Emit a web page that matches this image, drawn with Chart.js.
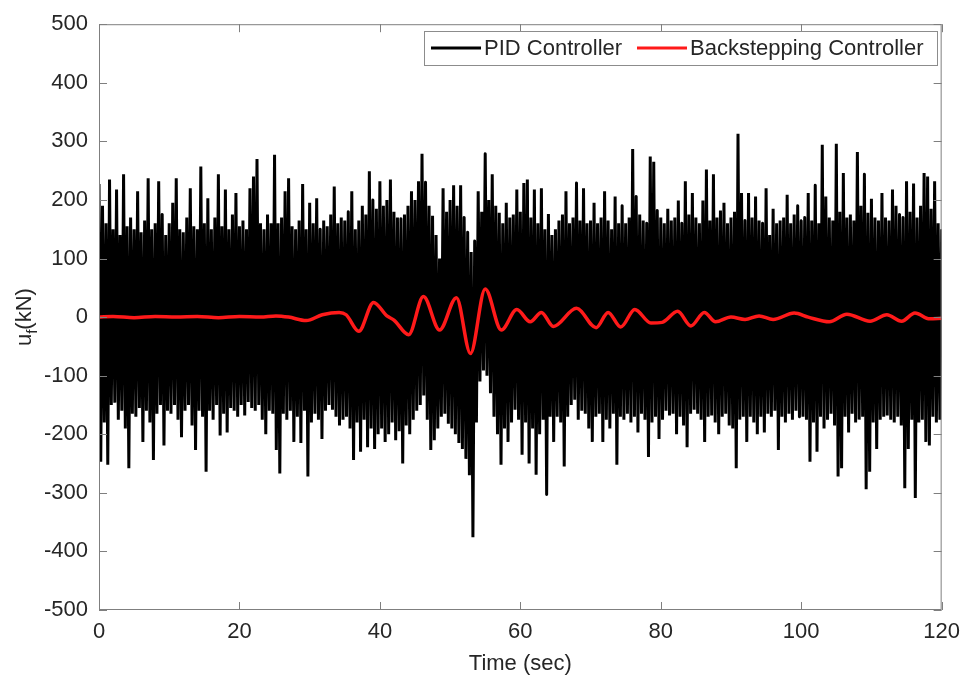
<!DOCTYPE html>
<html>
<head>
<meta charset="utf-8">
<script src="https://cdn.jsdelivr.net/npm/chart.js@4.4.0/dist/chart.umd.min.js"></script>
<style>
html, body { margin: 0; padding: 0; background: #fff; }
#wrap { width: 969px; height: 679px; position: relative; }
</style>
</head>
<body>
<div id="wrap"><canvas id="ufChart"></canvas></div>
<script>
// PID control force, one sample every 0.25 s
const pidStep = 0.25;
const pid0to30 = [
    227,-247,190,-180,160,-252,235,-150,150,-146,218,-175,140,-160,244,-190,155,-258,170,-165,
    150,-170,215,-155,145,-213,165,-160,237,-180,150,-244,160,-165,232,-150,175,-219,140,-160,
    160,-165,195,-150,237,-175,150,-205,145,-160,170,-150,220,-185,155,-227,150,-160,257,-170,
    160,-264,203,-160,150,-175,170,-150,244,-202,155,-165,218,-197,150,-155,175,-160,212,-170,
    155,-150,165,-168,150,-145,220,-155,240,-160,270,-150,160,-175,150,-200,175,-160,160,-165,
    277,-227,160,-267,170,-165,215,-175,237,-160,155,-213,150,-170,165,-215,227,-160,150,-272
];
const pid30to60 = [
    195,-180,160,-165,203,-175,150,-208,165,-160,155,-150,175,-158,223,-170,160,-185,170,-175,
    165,-170,180,-190,215,-244,150,-180,165,-230,190,-175,175,-222,249,-190,200,-225,185,-200,
    232,-190,190,-213,200,-200,235,-180,180,-210,170,-195,168,-250,175,-185,190,-200,215,-175,
    200,-160,232,-150,279,-134,230,-175,190,-227,173,-210,140,-190,100,-170,220,-165,180,-182,
    200,-190,225,-200,190,-215,225,-225,170,-242,145,-270,111,-376,130,-180,215,-110,180,-91,
    279,-100,200,-130,244,-170,190,-200,178,-252,160,-190,195,-213,170,-180,175,-158,218,-175
];
const pid60to90 = [
    180,-235,229,-180,235,-250,170,-190,218,-269,160,-200,220,-175,150,-303,176,-170,140,-213,
    150,-170,165,-180,175,-255,215,-170,160,-150,170,-141,229,-175,165,-160,220,-165,160,-190,
    165,-213,195,-170,160,-165,170,-213,215,-175,165,-190,150,-165,206,-252,160,-170,190,-175,
    160,-165,170,-180,287,-170,206,-197,175,-165,165,-175,160,-239,274,-180,265,-170,182,-208,
    170,-175,160,-160,185,-168,165,-165,170,-200,199,-170,160,-185,232,-222,175,-165,212,-158,
    170,-165,160,-175,199,-213,252,-170,165,-168,244,-180,170,-200,182,-170,195,-165,160,-185
];
const pid90to120 = [
    170,-190,180,-258,313,-175,212,-170,165,-213,212,-170,170,-180,206,-200,165,-170,160,-197,
    220,-165,140,-170,185,-160,160,-227,165,-170,170,-180,209,-165,160,-175,175,-160,190,-170,
    165,-170,170,-175,212,-247,165,-180,225,-230,160,-170,294,-190,206,-175,170,-165,165,-185,
    296,-272,180,-258,246,-170,170,-197,175,-165,165,-180,282,-175,190,-170,244,-294,178,-264,
    202,-180,170,-225,165,-175,212,-170,170,-168,165,-175,218,-180,190,-170,175,-185,170,-292,
    232,-225,180,-175,228,-309,170,-180,190,-175,246,-213,240,-219,185,-170,232,-180,160,-175,150
];

// Backstepping control force (turning points of the red curve)
const bsTime = [0,2,5,8,11,14,17,20,23,25.2,27,29.5,31.8,34.2,35.2,37,39.1,41,42,44.1,46.2,48.5,50.9,52.9,
    55,57.3,59.5,61.4,63,64.7,68,70.8,72.5,74.3,76.3,78.6,80.2,82.4,84.3,86.2,87.8,90,92,94,
    96,99,101,104,106.5,109.8,112.2,114.3,116.2,118.3,120];
const bsValue = [0,1,-1,1,0,1,-1,1,0,2,0,-6,4,8,4,-24,25,2,-5,-30,35,-22,33,-62,
    48,-22,13,-8,8,-16,15,-18,8,-17,13,-10,-9,10,-15,8,-8,0,-4,2,
    -4,7,0,-8,5,-7,4,-7,7,-3,-2];

const xTicks = [0, 20, 40, 60, 80, 100, 120];
const yTicks = [-500, -400, -300, -200, -100, 0, 100, 200, 300, 400, 500];
const seriesNames = ["PID Controller", "Backstepping Controller"];
const seriesColors = ["#000000", "#ff1a1a"];

const FONT = "'Liberation Sans', Arial, sans-serif";
const TEXT = "#262626";

const pidValues = [].concat(pid0to30, pid30to60, pid60to90, pid90to120);
const pidPoints = pidValues.map((v, i) => ({ x: i * pidStep, y: v }));
const bsPoints = bsTime.map((t, i) => ({ x: t, y: bsValue[i] }));

// box, inward ticks, y title with subscript, legend
const matlabAxes = {
    id: "matlabAxes",
    afterDraw(chart) {
        const { ctx, chartArea: a, scales: { x, y } } = chart;
        ctx.save();
        ctx.strokeStyle = "#7f7f7f";
        ctx.lineWidth = 1;
        ctx.strokeRect(a.left + 0.5, a.top + 0.5, a.right - a.left - 1, a.bottom - a.top - 1);
        const len = 8;
        ctx.beginPath();
        xTicks.forEach(v => {
            const px = Math.round(x.getPixelForValue(v)) + 0.5;
            ctx.moveTo(px, a.bottom); ctx.lineTo(px, a.bottom - len);
            ctx.moveTo(px, a.top); ctx.lineTo(px, a.top + len);
        });
        yTicks.forEach(v => {
            const py = Math.round(y.getPixelForValue(v)) + 0.5;
            ctx.moveTo(a.left, py); ctx.lineTo(a.left + len, py);
            ctx.moveTo(a.right, py); ctx.lineTo(a.right - len, py);
        });
        ctx.stroke();

        // y title: u_f(kN)
        const big = "22px " + FONT, small = "15px " + FONT;
        ctx.font = big;
        const wu = ctx.measureText("u").width;
        const wk = ctx.measureText("(kN)").width;
        ctx.font = small;
        const wf = ctx.measureText("f").width;
        const total = wu + wf + wk;
        ctx.translate(31, (a.top + a.bottom) / 2);
        ctx.rotate(-Math.PI / 2);
        ctx.fillStyle = TEXT;
        ctx.textBaseline = "alphabetic";
        ctx.textAlign = "left";
        let cx = -total / 2;
        ctx.font = big;
        ctx.fillText("u", cx, 0);
        cx += wu;
        ctx.font = small;
        ctx.fillText("f", cx, 6);
        cx += wf;
        ctx.font = big;
        ctx.fillText("(kN)", cx, 0);
        ctx.restore();

        // legend box
        ctx.save();
        const lx = 424, ly = 31, lw = 513, lh = 34;
        ctx.fillStyle = "#ffffff";
        ctx.fillRect(lx, ly, lw, lh);
        ctx.strokeStyle = "#8c8c8c";
        ctx.lineWidth = 1;
        ctx.strokeRect(lx + 0.5, ly + 0.5, lw, lh);
        const my = ly + lh / 2;
        const items = [
            { x0: 431, x1: 481, tx: 484 },
            { x0: 637, x1: 687, tx: 690 }
        ];
        ctx.font = "22px " + FONT;
        ctx.textBaseline = "middle";
        ctx.textAlign = "left";
        items.forEach((it, i) => {
            ctx.strokeStyle = seriesColors[i];
            ctx.lineWidth = 3;
            ctx.beginPath();
            ctx.moveTo(it.x0, my); ctx.lineTo(it.x1, my);
            ctx.stroke();
            ctx.fillStyle = TEXT;
            ctx.fillText(seriesNames[i], it.tx, my + 1);
        });
        ctx.restore();
    }
};

new Chart(document.getElementById("ufChart"), {
    type: "line",
    data: {
        datasets: [
            {
                label: seriesNames[0],
                data: pidPoints,
                borderColor: seriesColors[0],
                borderWidth: 3,
                borderJoinStyle: "bevel",
                pointRadius: 0,
                tension: 0.001,
                order: 1
            },
            {
                label: seriesNames[1],
                data: bsPoints,
                borderColor: seriesColors[1],
                borderWidth: 3.5,
                pointRadius: 0,
                cubicInterpolationMode: "monotone",
                order: 0
            }
        ]
    },
    options: {
        responsive: true,
        maintainAspectRatio: false,
        animation: false,
        events: [],
        layout: { padding: { top: 15, right: 24, left: 0, bottom: 0 } },
        plugins: {
            legend: { display: false },
            tooltip: { enabled: false }
        },
        scales: {
            x: {
                type: "linear",
                min: 0,
                max: 120,
                afterBuildTicks: s => { s.ticks = xTicks.map(v => ({ value: v })); },
                afterFit: s => { s.height = 69; },
                grid: { display: false, drawTicks: false },
                border: { display: false },
                ticks: { color: TEXT, font: { family: FONT, size: 22 }, padding: 9, maxRotation: 0 },
                title: { display: true, text: "Time (sec)", color: TEXT, font: { family: FONT, size: 22 }, padding: { top: 0, bottom: 2 } }
            },
            y: {
                type: "linear",
                min: -500,
                max: 500,
                afterBuildTicks: s => { s.ticks = yTicks.map(v => ({ value: v })); },
                afterFit: s => { s.width = 99; },
                grid: { display: false, drawTicks: false },
                border: { display: false },
                ticks: { color: TEXT, font: { family: FONT, size: 22 }, padding: 11 }
            }
        }
    },
    plugins: [matlabAxes]
});
</script>
</body>
</html>
